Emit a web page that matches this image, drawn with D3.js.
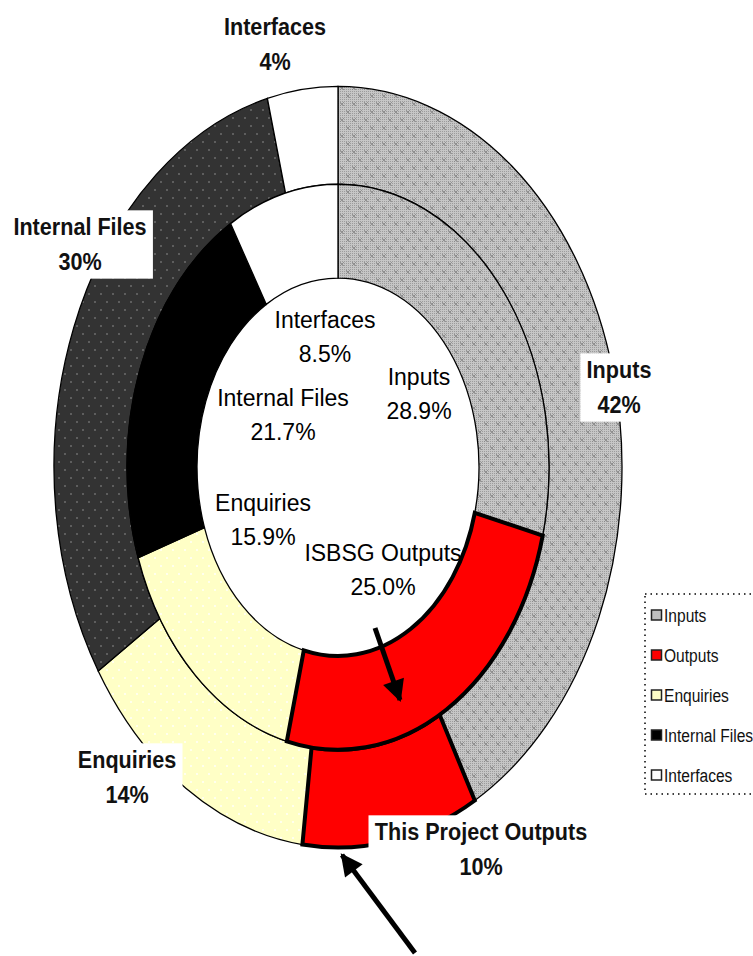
<!DOCTYPE html>
<html>
<head>
<meta charset="utf-8">
<script src="https://cdn.jsdelivr.net/npm/d3@7"></script>
<style>
  body { margin: 0; background: #fff; }
  svg { display: block; }
</style>
</head>
<body>
<svg id="chart" width="753" height="956"></svg>
<script>
// Function point mix: this project (outer ring) against the ISBSG benchmark (inner ring)
const categories = ["Inputs", "Outputs", "Enquiries", "Internal Files", "Interfaces"];
const projectShares = [42, 10, 14, 30, 4];
const isbsgShares = [28.9, 25.0, 15.9, 21.7, 8.5];
const projectLabels = ["Inputs", "This Project Outputs", "Enquiries", "Internal Files", "Interfaces"];
const isbsgLabels = ["Inputs", "ISBSG Outputs", "Enquiries", "Internal Files", "Interfaces"];

// Layout
const cx = 338, cy = 467, stretchY = 1.34;
const rHole = 141, rMid = 211, rOuter = 284;
const sans = "'Liberation Sans', Arial, sans-serif";
const labelSqueeze = 0.9;   // horizontal squeeze giving a narrow bold face
const legendSqueeze = 0.82;

const outerLabelPos = [[619, 370], [481, 832], [127, 760], [80, 227], [275, 27]];
const innerLabelPos = [[419, 377], [383, 553], [263, 503], [283, 398], [325, 320]];

const svg = d3.select("#chart");
const defs = svg.append("defs");
const unstretch = `scale(1,${1 / stretchY})`;

// Light grey dotted fabric with small crosses (Inputs)
const pIn = defs.append("pattern").attr("id", "pInputs")
  .attr("patternUnits", "userSpaceOnUse").attr("width", 12).attr("height", 16)
  .attr("patternTransform", unstretch);
pIn.append("rect").attr("width", 12).attr("height", 16).attr("fill", "#c6c6c6");
for (let x = 0; x < 12; x += 2) for (let y = 0; y < 16; y += 2)
  pIn.append("rect").attr("x", x).attr("y", y).attr("width", 1).attr("height", 1).attr("fill", "#9c9c9c");
pIn.append("path").attr("d", "M2,3 L6,7 M6,3 L2,7 M8,11 L12,15 M12,11 L8,15")
  .attr("stroke", "#858585").attr("stroke-width", 0.8);

// Dark grey with pale dots (Internal Files, outer ring)
const pFiles = defs.append("pattern").attr("id", "pFiles")
  .attr("patternUnits", "userSpaceOnUse").attr("width", 12).attr("height", 16)
  .attr("patternTransform", unstretch);
pFiles.append("rect").attr("width", 12).attr("height", 16).attr("fill", "#333333");
pFiles.append("rect").attr("x", 2).attr("y", 2).attr("width", 2).attr("height", 2).attr("fill", "#5e5e5e");
pFiles.append("rect").attr("x", 8).attr("y", 10).attr("width", 2).attr("height", 2).attr("fill", "#5e5e5e");

// Pale yellow with faint white dots (Enquiries)
const pEnq = defs.append("pattern").attr("id", "pEnq")
  .attr("patternUnits", "userSpaceOnUse").attr("width", 12).attr("height", 16)
  .attr("patternTransform", unstretch);
pEnq.append("rect").attr("width", 12).attr("height", 16).attr("fill", "#ffffc6");
pEnq.append("rect").attr("x", 2).attr("y", 2).attr("width", 2).attr("height", 2).attr("fill", "#ffffee");
pEnq.append("rect").attr("x", 8).attr("y", 10).attr("width", 2).attr("height", 2).attr("fill", "#ffffee");

const outerFill = d3.scaleOrdinal().domain(categories)
  .range(["url(#pInputs)", "#ff0000", "url(#pEnq)", "url(#pFiles)", "#ffffff"]);
const innerFill = d3.scaleOrdinal().domain(categories)
  .range(["url(#pInputs)", "#ff0000", "url(#pEnq)", "#000000", "#ffffff"]);
const legendFill = d3.scaleOrdinal().domain(categories)
  .range(["#c0c0c0", "#ff0000", "#ffffc6", "#000000", "#ffffff"]);

const pie = d3.pie().sort(null).value(d => d.value);
const innerArc = d3.arc().innerRadius(rHole).outerRadius(rMid);
const outerArc = d3.arc().innerRadius(rMid).outerRadius(rOuter);

const outerData = pie(categories.map((c, i) => ({ cat: c, value: projectShares[i], label: projectLabels[i], i })));
const innerData = pie(categories.map((c, i) => ({ cat: c, value: isbsgShares[i], label: isbsgLabels[i], i })));

const rings = svg.append("g").attr("transform", `translate(${cx},${cy}) scale(1,${stretchY})`);

function drawRing(data, arc, fill) {
  // red slices last so their heavy outline sits on top of neighbours
  const ordered = data.filter(d => d.data.cat !== "Outputs").concat(data.filter(d => d.data.cat === "Outputs"));
  rings.append("g").selectAll("path").data(ordered).join("path")
    .attr("d", arc)
    .attr("fill", d => fill(d.data.cat))
    .attr("stroke", "#000")
    .attr("stroke-width", d => d.data.cat === "Outputs" ? 4 : 1.3)
    .attr("stroke-linejoin", "miter")
    .attr("vector-effect", "non-scaling-stroke");
}
drawRing(outerData, outerArc, outerFill);
drawRing(innerData, innerArc, innerFill);

// Outer ring labels on white boxes
const outerG = svg.append("g");
outerData.forEach(d => {
  const [x, y] = outerLabelPos[d.data.i];
  const g = outerG.append("g").attr("transform", `translate(${x},0) scale(${labelSqueeze},1)`);
  const box = g.append("rect").attr("fill", "#fff");
  const t = g.append("text")
    .attr("font-family", sans).attr("font-weight", "bold").attr("font-size", 24)
    .attr("text-anchor", "middle").attr("fill", "#111");
  t.append("tspan").attr("x", 0).attr("y", y).attr("dy", "0.35em").text(d.data.label);
  t.append("tspan").attr("x", 0).attr("y", y + 35).attr("dy", "0.35em").text(d3.format("d")(d.data.value) + "%");
  const bb = t.node().getBBox();
  box.attr("x", bb.x - 7).attr("y", bb.y - 3).attr("width", bb.width + 14).attr("height", bb.height + 6);
});

// Inner ring labels inside the hole
const innerG = svg.append("g");
innerData.forEach(d => {
  const [x, y] = innerLabelPos[d.data.i];
  const t = innerG.append("text")
    .attr("font-family", sans).attr("font-size", 23)
    .attr("text-anchor", "middle").attr("fill", "#000");
  t.append("tspan").attr("x", x).attr("y", y).attr("dy", "0.35em").text(d.data.label);
  t.append("tspan").attr("x", x).attr("y", y + 34).attr("dy", "0.35em").text(d3.format(".1f")(d.data.value) + "%");
});

// Pointer arrows to the two Outputs slices
defs.append("marker").attr("id", "head")
  .attr("viewBox", "0 0 10 10").attr("refX", 9).attr("refY", 5)
  .attr("markerWidth", 5).attr("markerHeight", 4.4).attr("orient", "auto")
  .append("path").attr("d", "M0,0 L10,5 L0,10 z").attr("fill", "#000");

const arrows = [
  { from: [375, 628], to: [400, 700] },
  { from: [415, 953], to: [342, 855] }
];
svg.append("g").selectAll("line").data(arrows).join("line")
  .attr("x1", d => d.from[0]).attr("y1", d => d.from[1])
  .attr("x2", d => d.to[0]).attr("y2", d => d.to[1])
  .attr("stroke", "#000").attr("stroke-width", 5)
  .attr("marker-end", "url(#head)");

// Legend
const legend = svg.append("g");
legend.append("rect").attr("x", 645).attr("y", 594).attr("width", 140).attr("height", 200)
  .attr("fill", "#fff").attr("stroke", "#000").attr("stroke-width", 1.5)
  .attr("stroke-dasharray", "1.5,4");
const items = legend.selectAll("g.item").data(categories).join("g")
  .attr("class", "item")
  .attr("transform", (d, i) => `translate(651,${615 + i * 40})`);
items.append("rect").attr("x", 0.5).attr("y", -5).attr("width", 10).attr("height", 10)
  .attr("fill", d => legendFill(d)).attr("stroke", "#222").attr("stroke-width", 1.5);
items.append("text")
  .attr("transform", `translate(13,0) scale(${legendSqueeze},1)`)
  .attr("dy", "0.35em")
  .attr("font-family", sans).attr("font-size", 19).attr("fill", "#111")
  .text(d => d);
</script>
</body>
</html>
